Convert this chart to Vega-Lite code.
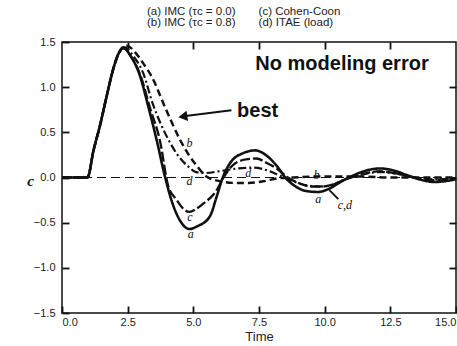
{
  "$schema": "https://vega.github.io/schema/vega-lite/v6.json",
  "width": 394,
  "height": 271,
  "autosize": "none",
  "padding": {"left": 62, "top": 42, "right": 1, "bottom": 33},
  "background": "white",
  "config": {
    "view": {"stroke": "#111", "strokeWidth": 1.5},
    "font": "Liberation Sans",
    "axis": {"labelFont": "Liberation Sans", "labelFontSize": 11, "labelColor": "#222", "tickColor": "#111", "tickWidth": 1.8, "tickSize": 7, "offset": -7, "grid": false, "domain": false, "zindex": 1}
  },
  "title": {
    "text": ["(a) IMC (τc = 0.0)\u2002\u2002\u2002\u2002(c) Cohen-Coon", "(b) IMC (τc = 0.8)\u2002\u2002\u2002\u2002(d) ITAE (load)"],
    "anchor": "start",
    "frame": "group",
    "dx": 85,
    "offset": 8,
    "fontSize": 11.5,
    "fontWeight": "normal",
    "font": "Liberation Sans",
    "lineHeight": 11,
    "color": "#222"
  },
  "resolve": {"axis": {"x": "independent", "y": "independent"}},
  "layer": [
    {
      "data": {"values": [
        {"s":"a","t":0,"y":0},{"s":"a","t":0.97,"y":0},{"s":"a","t":1.2,"y":0.3},{"s":"a","t":1.45,"y":0.58},{"s":"a","t":1.7,"y":0.9},{"s":"a","t":1.95,"y":1.2},{"s":"a","t":2.15,"y":1.37},
        {"s":"a","t":2.33,"y":1.44},{"s":"a","t":2.6,"y":1.35},{"s":"a","t":2.94,"y":1.15},{"s":"a","t":3.29,"y":0.78},{"s":"a","t":3.6,"y":0.42},{"s":"a","t":3.92,"y":0.01},{"s":"a","t":4.2,"y":-0.28},{"s":"a","t":4.5,"y":-0.48},{"s":"a","t":4.85,"y":-0.57},{"s":"a","t":5.15,"y":-0.54},{"s":"a","t":5.63,"y":-0.43},{"s":"a","t":5.89,"y":-0.21},{"s":"a","t":6.12,"y":0.0},{"s":"a","t":6.4,"y":0.16},{"s":"a","t":6.9,"y":0.27},{"s":"a","t":7.35,"y":0.3},{"s":"a","t":7.8,"y":0.24},{"s":"a","t":8.2,"y":0.12},{"s":"a","t":8.5,"y":0.0},{"s":"a","t":8.9,"y":-0.1},{"s":"a","t":9.3,"y":-0.15},{"s":"a","t":9.75,"y":-0.16},{"s":"a","t":10.2,"y":-0.12},{"s":"a","t":10.6,"y":-0.05},{"s":"a","t":11.0,"y":0.01},{"s":"a","t":11.5,"y":0.07},{"s":"a","t":12.1,"y":0.1},{"s":"a","t":12.6,"y":0.08},{"s":"a","t":13.1,"y":0.03},{"s":"a","t":13.6,"y":-0.02},{"s":"a","t":14.2,"y":-0.05},{"s":"a","t":14.6,"y":-0.04},{"s":"a","t":15,"y":-0.02},
        {"s":"b","t":0,"y":0},{"s":"b","t":0.97,"y":0},{"s":"b","t":1.2,"y":0.3},{"s":"b","t":1.45,"y":0.58},{"s":"b","t":1.7,"y":0.9},{"s":"b","t":1.95,"y":1.2},{"s":"b","t":2.15,"y":1.37},
        {"s":"b","t":2.46,"y":1.46},{"s":"b","t":2.8,"y":1.38},{"s":"b","t":3.1,"y":1.26},{"s":"b","t":3.41,"y":1.12},{"s":"b","t":3.92,"y":0.78},{"s":"b","t":4.49,"y":0.42},{"s":"b","t":4.85,"y":0.24},{"s":"b","t":5.13,"y":0.13},{"s":"b","t":5.5,"y":0.01},{"s":"b","t":6.0,"y":-0.04},{"s":"b","t":6.6,"y":-0.06},{"s":"b","t":7.1,"y":-0.06},{"s":"b","t":7.7,"y":-0.04},{"s":"b","t":8.2,"y":-0.01},{"s":"b","t":8.8,"y":0.0},{"s":"b","t":9.5,"y":0.01},{"s":"b","t":10.5,"y":0.01},{"s":"b","t":11.5,"y":0.01},{"s":"b","t":12.5,"y":0.0},{"s":"b","t":15,"y":0.0},
        {"s":"c","t":0,"y":0},{"s":"c","t":0.97,"y":0},{"s":"c","t":1.2,"y":0.3},{"s":"c","t":1.45,"y":0.58},{"s":"c","t":1.7,"y":0.9},{"s":"c","t":1.95,"y":1.2},{"s":"c","t":2.15,"y":1.37},
        {"s":"c","t":2.35,"y":1.43},{"s":"c","t":2.65,"y":1.33},{"s":"c","t":3.0,"y":1.12},{"s":"c","t":3.35,"y":0.77},{"s":"c","t":3.72,"y":0.42},{"s":"c","t":4.05,"y":-0.1},{"s":"c","t":4.37,"y":-0.25},{"s":"c","t":4.6,"y":-0.34},{"s":"c","t":4.85,"y":-0.38},{"s":"c","t":5.1,"y":-0.35},{"s":"c","t":5.38,"y":-0.29},{"s":"c","t":5.89,"y":-0.14},{"s":"c","t":6.15,"y":0.0},{"s":"c","t":6.52,"y":0.14},{"s":"c","t":7.0,"y":0.2},{"s":"c","t":7.4,"y":0.21},{"s":"c","t":7.8,"y":0.16},{"s":"c","t":8.17,"y":0.1},{"s":"c","t":8.6,"y":0.0},{"s":"c","t":9.0,"y":-0.06},{"s":"c","t":9.5,"y":-0.1},{"s":"c","t":9.9,"y":-0.1},{"s":"c","t":10.3,"y":-0.08},{"s":"c","t":10.7,"y":-0.03},{"s":"c","t":11.0,"y":0.0},{"s":"c","t":11.5,"y":0.04},{"s":"c","t":12.1,"y":0.07},{"s":"c","t":12.6,"y":0.05},{"s":"c","t":13.1,"y":0.02},{"s":"c","t":13.6,"y":-0.01},{"s":"c","t":14.2,"y":-0.03},{"s":"c","t":15,"y":-0.01},
        {"s":"d","t":0,"y":0},{"s":"d","t":0.97,"y":0},{"s":"d","t":1.2,"y":0.3},{"s":"d","t":1.45,"y":0.58},{"s":"d","t":1.7,"y":0.9},{"s":"d","t":1.95,"y":1.2},{"s":"d","t":2.15,"y":1.37},
        {"s":"d","t":2.4,"y":1.44},{"s":"d","t":2.7,"y":1.35},{"s":"d","t":3.1,"y":1.15},{"s":"d","t":3.45,"y":0.82},{"s":"d","t":3.75,"y":0.6},{"s":"d","t":4.05,"y":0.42},{"s":"d","t":4.4,"y":0.25},{"s":"d","t":4.81,"y":0.12},{"s":"d","t":5.1,"y":0.06},{"s":"d","t":5.5,"y":0.05},{"s":"d","t":6.0,"y":0.07},{"s":"d","t":6.7,"y":0.1},{"s":"d","t":7.3,"y":0.11},{"s":"d","t":7.8,"y":0.08},{"s":"d","t":8.3,"y":0.02},{"s":"d","t":8.7,"y":-0.03},{"s":"d","t":9.2,"y":-0.08},{"s":"d","t":9.8,"y":-0.1},{"s":"d","t":10.3,"y":-0.08},{"s":"d","t":10.7,"y":-0.03},{"s":"d","t":11.0,"y":0.0},{"s":"d","t":11.5,"y":0.04},{"s":"d","t":12.1,"y":0.06},{"s":"d","t":12.6,"y":0.05},{"s":"d","t":13.1,"y":0.02},{"s":"d","t":13.6,"y":-0.01},{"s":"d","t":14.2,"y":-0.02},{"s":"d","t":15,"y":-0.01}
      ]},
      "mark": {"type": "line", "interpolate": "monotone", "color": "#111", "strokeCap": "butt"},
      "encoding": {
        "x": {"field": "t", "type": "quantitative", "scale": {"domain": [0, 15], "nice": false, "zero": false},
              "axis": {"orient": "bottom", "values": [0, 2.5, 5, 7.5, 10, 12.5, 15], "format": ".1f", "labelPadding": 3, "title": "Time", "titleFont": "Liberation Sans", "titleFontSize": 13, "titleFontWeight": "normal", "titleColor": "#222", "titlePadding": 3}},
        "y": {"field": "y", "type": "quantitative", "scale": {"domain": [-1.5, 1.5], "nice": false, "zero": false},
              "axis": {"orient": "left", "values": [-1.5, -1, -0.5, 0, 0.5, 1, 1.5], "format": ".1f", "labelPadding": 7, "title": "c", "titleAngle": 0, "titleFont": "Liberation Serif", "titleFontStyle": "italic", "titleFontWeight": "bold", "titleFontSize": 15, "titleColor": "#111", "titleX": -39, "titleY": 138, "titleAlign": "center", "titleBaseline": "middle"}},
        "detail": {"field": "s", "type": "nominal"},
        "strokeDash": {"field": "s", "type": "nominal", "scale": {"domain": ["a", "b", "c", "d"], "range": [[1, 0], [7, 4], [10, 3], [8, 3, 2, 3]]}, "legend": null},
        "strokeWidth": {"field": "s", "type": "ordinal", "scale": {"domain": ["a", "b", "c", "d"], "range": [2.6, 1.9, 2.5, 1.9]}, "legend": null}
      }
    },
    {
      "data": {"values": [{"z": 0}]},
      "mark": {"type": "rule", "strokeDash": [9, 5], "strokeWidth": 1, "color": "#111"},
      "encoding": {"y": {"field": "z", "type": "quantitative", "axis": null}}
    },
    {
      "data": {"values": [
        {"t": 4.85, "y": 0.38, "txt": "b"},
        {"t": 4.85, "y": -0.04, "txt": "d"},
        {"t": 4.87, "y": -0.44, "txt": "c"},
        {"t": 4.9, "y": -0.63, "txt": "a"},
        {"t": 7.09, "y": 0.05, "txt": "d"},
        {"t": 9.7, "y": 0.03, "txt": "b"},
        {"t": 9.76, "y": -0.24, "txt": "a"},
        {"t": 10.77, "y": -0.3, "txt": "c,d"}
      ]},
      "mark": {"type": "text", "font": "Liberation Serif", "fontStyle": "italic", "fontSize": 12, "color": "#111", "align": "center", "baseline": "middle"},
      "encoding": {
        "x": {"field": "t", "type": "quantitative", "axis": {"orient": "top", "values": [2.5, 5, 7.5, 10, 12.5], "labels": false, "title": null}},
        "y": {"field": "y", "type": "quantitative", "axis": {"orient": "right", "values": [-1, -0.5, 0, 0.5, 1], "labels": false, "title": null}},
        "text": {"field": "txt"}
      }
    },
    {
      "data": {"values": [
        {"t": 10.66, "y": 1.26, "txt": "No modeling error"},
        {"t": 7.45, "y": 0.735, "txt": "best"}
      ]},
      "mark": {"type": "text", "font": "Liberation Sans", "fontWeight": "bold", "fontSize": 20, "color": "#111", "align": "center", "baseline": "middle"},
      "encoding": {
        "x": {"field": "t", "type": "quantitative", "axis": null},
        "y": {"field": "y", "type": "quantitative", "axis": null},
        "text": {"field": "txt"}
      }
    },
    {
      "data": {"values": [
        {"t1": 6.45, "y1": 0.745, "t2": 4.7, "y2": 0.68, "w": "arrow"},
        {"t1": 10.18, "y1": -0.14, "t2": 10.52, "y2": -0.24, "w": "leader"}
      ]},
      "mark": {"type": "rule", "color": "#111"},
      "encoding": {
        "x": {"field": "t1", "type": "quantitative", "axis": null},
        "x2": {"field": "t2"},
        "y": {"field": "y1", "type": "quantitative", "axis": null},
        "y2": {"field": "y2"},
        "strokeWidth": {"field": "w", "type": "nominal", "scale": {"domain": ["arrow", "leader"], "range": [2, 1]}, "legend": null}
      }
    },
    {
      "data": {"values": [{"t": 4.6, "y": 0.675}]},
      "mark": {"type": "point", "shape": "triangle-left", "filled": true, "color": "#111", "opacity": 1, "size": 110, "angle": 351.5},
      "encoding": {
        "x": {"field": "t", "type": "quantitative", "axis": null},
        "y": {"field": "y", "type": "quantitative", "axis": null}
      }
    }
  ]
}
